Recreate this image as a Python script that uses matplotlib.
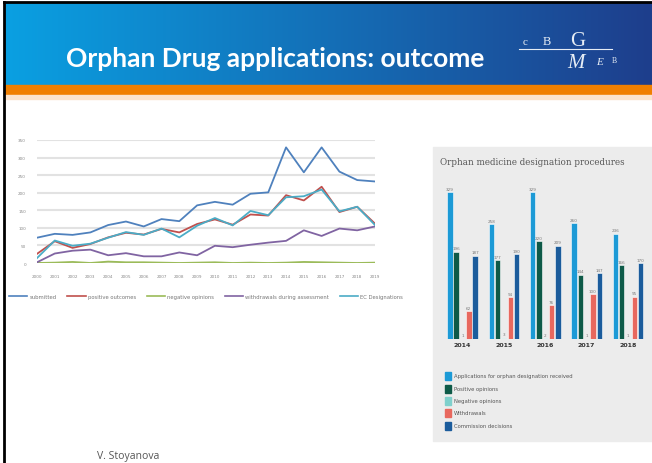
import numpy as np
import matplotlib.pyplot as plt
from matplotlib.lines import Line2D
from matplotlib.patches import Rectangle

# --- orphan designation history (line chart) ---
years = list(range(2000, 2020))
submitted = [72, 83, 80, 87, 108, 118, 104, 125, 119, 164, 174, 166, 197, 201, 329, 258, 329, 260, 236, 232]
positive = [26, 62, 43, 54, 73, 86, 81, 97, 87, 111, 124, 109, 138, 135, 193, 178, 217, 145, 160, 112]
negative = [0, 1, 3, 0, 4, 2, 2, 1, 0, 1, 2, 0, 1, 0, 1, 3, 2, 1, 0, 1]
withdrawn = [2, 27, 35, 38, 22, 28, 19, 19, 30, 22, 49, 45, 52, 58, 63, 93, 77, 98, 93, 104]
ec_designations = [14, 64, 49, 55, 72, 88, 80, 98, 73, 106, 128, 107, 148, 136, 187, 190, 209, 147, 160, 108]

line_labels = ["submitted", "positive outcomes", "negative opinions",
               "withdrawals during assessment", "EC Designations"]
line_colors = ["#4f81bd", "#c0504d", "#9bbb59", "#8064a2", "#4bacc6"]

# --- designation procedures 2014-2018 (bar chart) ---
bar_years = ["2014", "2015", "2016", "2017", "2018"]
bar_received = [329, 258, 329, 260, 236]
bar_positive = [196, 177, 220, 144, 166]
bar_negative = [1, 3, 2, 1, 1]
bar_withdrawn = [62, 94, 76, 100, 95]
bar_decisions = [187, 190, 209, 147, 170]

bar_labels = ["Applications for orphan designation received", "Positive opinions",
              "Negative opinions", "Withdrawals", "Commission decisions"]
bar_colors = ["#1c9ad6", "#0e5a48", "#7fd0cc", "#e8685e", "#1b5c9c"]

W, H = 652, 464
fig = plt.figure(figsize=(W / 100, H / 100), dpi=100)


def box(x, y, w, h):
    return [x / W, 1 - (y + h) / H, w / W, h / H]


# slide background, header band and frame
bg = fig.add_axes([0, 0, 1, 1])
bg.set_xlim(0, W)
bg.set_ylim(H, 0)
bg.axis("off")
grad = np.linspace(0, 1, 256)
c0 = np.array([10, 160, 226]) / 255
c1 = np.array([30, 62, 140]) / 255
band = (c0[None, :] * (1 - grad[:, None]) + c1[None, :] * grad[:, None])[None, :, :]
bg.imshow(band, extent=(4, W, 86, 4), aspect="auto", zorder=1)
bg.add_patch(Rectangle((4, 86), W, 10, color="#f07f00", zorder=2))
bg.add_patch(Rectangle((4, 96), W, 4, color="#fbe3cc", zorder=2))
bg.plot([4, 4], [3, H], color="black", lw=2, zorder=3)
bg.plot([4, W], [3, 3], color="black", lw=2, zorder=3)

bg.text(275, 59, "Orphan Drug applications: outcome", color="white",
        fontsize=19, fontweight="bold", family="Lato", ha="center", va="center", zorder=4)

# logo
logo_c = "#e6edf5"
bg.text(525, 45, "c", color=logo_c, fontsize=8, family="Liberation Serif", ha="center", va="baseline", zorder=4)
bg.text(547, 45, "B", color=logo_c, fontsize=9, family="Liberation Serif", ha="center", va="baseline", zorder=4)
bg.text(578, 46, "G", color=logo_c, fontsize=15, family="Liberation Serif", ha="center", va="baseline", zorder=4)
bg.plot([519, 612], [50, 50], color=logo_c, lw=0.8, zorder=4)
bg.text(576, 68, "M", color=logo_c, fontsize=15, family="Liberation Serif", style="italic", ha="center", va="baseline", zorder=4)
bg.text(600, 65, "E", color=logo_c, fontsize=8, family="Liberation Serif", style="italic", ha="center", va="baseline", zorder=4)
bg.text(614, 63, "B", color=logo_c, fontsize=5.5, family="Liberation Serif", ha="center", va="baseline", zorder=4)

bg.text(97, 451, "V. Stoyanova", color="#555555", fontsize=7.5, family="Open Sans", ha="left", va="top", zorder=4)

# line chart
ax = fig.add_axes(box(37, 141, 338, 123))
series = [submitted, positive, negative, withdrawn, ec_designations]
for vals, col, lab in zip(series, line_colors, line_labels):
    ax.plot(years, vals, color=col, lw=1.3, label=lab)
ax.set_xlim(2000, 2019)
ax.set_ylim(0, 350)
ax.set_yticks(range(0, 351, 50))
ax.set_xticks(years)
ax.grid(axis="y", color="#e2e2e2", lw=1.5)
ax.set_axisbelow(True)
for s in ax.spines.values():
    s.set_visible(False)
ax.tick_params(length=0, labelsize=3, colors="#888888", pad=8)
ax.legend(handles=[Line2D([], [], color=c, lw=1.2) for c in line_colors], labels=line_labels,
          ncol=5, fontsize=3.8, frameon=False, handlelength=3.5, handletextpad=0.4,
          columnspacing=2.0, loc="center", bbox_to_anchor=(0.5, -0.27), labelcolor="#777777")

# bar chart panel
bg.add_patch(Rectangle((433, 148), W - 433, 294, color="#ececec", zorder=1))
bg.text(440, 163, "Orphan medicine designation procedures", fontsize=6.3,
        family="DejaVu Serif", color="#555555", ha="left", va="center", zorder=4)

bx = fig.add_axes(box(441.8, 183.9, 206.9, 156.1))
bx.patch.set_alpha(0)
x = np.arange(len(bar_years))
pitch = 0.153
bar_sets = [bar_received, bar_positive, bar_negative, bar_withdrawn, bar_decisions]
for i, (vals, col) in enumerate(zip(bar_sets, bar_colors)):
    pos = x + (i - 2) * pitch
    bx.bar(pos, vals, width=pitch * 0.85, color=col, edgecolor="white", linewidth=0.4)
    for p, v in zip(pos, vals):
        bx.text(p, v + 3, str(v), fontsize=3, color="#777777", ha="center", va="bottom")
bx.set_xlim(-0.5, 4.5)
bx.set_ylim(0, 350)
bx.axis("off")
for xi, yr in zip(x, bar_years):
    bx.text(xi, -12, yr, fontsize=4.5, fontweight="bold", color="#333333", ha="center", va="center")

# bar chart legend
rows = [377, 390, 402, 414, 427]
for yy, lab, col in zip(rows, bar_labels, bar_colors):
    bg.add_patch(Rectangle((445, yy - 4), 6, 8, color=col, zorder=4))
    bg.text(454, yy, lab, fontsize=3.8, color="#555555", ha="left", va="center", zorder=4)

fig.savefig("out.png", dpi=100)
